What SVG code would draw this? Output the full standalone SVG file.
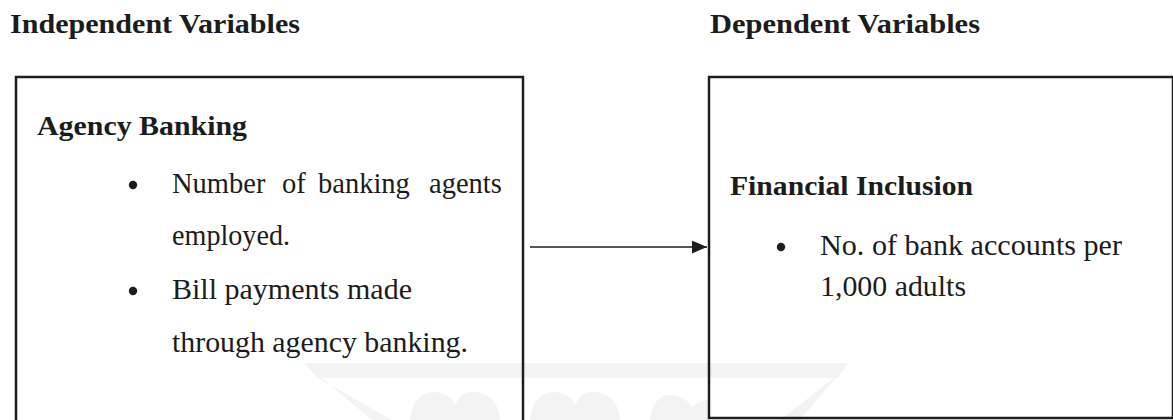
<svg xmlns="http://www.w3.org/2000/svg" width="1173" height="420" viewBox="0 0 1173 420">
<style>
.hdr{font-family:"Liberation Serif","Times New Roman",serif;font-weight:bold;font-size:27px;fill:#1c1c1c}
.ttl{font-family:"Liberation Serif","Times New Roman",serif;font-weight:bold;font-size:27px;fill:#1c1c1c}
.txt{font-family:"Liberation Serif","Times New Roman",serif;font-size:28.5px;fill:#1c1c1c}
.box{fill:none;stroke:#1e1e1e;stroke-width:2.5}
.edge{fill:none;stroke:#1e1e1e;stroke-width:1.6}
.dot{fill:#1c1c1c}
.wm{fill:#f3f3f3}
</style>
<defs>
<marker id="arr" markerWidth="15" markerHeight="13" refX="15" refY="6.5" orient="auto" markerUnits="userSpaceOnUse">
<path d="M0,0 L15,6.5 L0,13 Z" fill="#1e1e1e"/>
</marker>
</defs>
<rect width="1173" height="420" fill="#ffffff"/>
<g id="watermark">
<polygon class="wm" points="304,363 848,363 838,378 318,378"/>
<polygon class="wm" points="304,363 318,378 392,420 372,420"/>
<polygon class="wm" points="848,363 834,378 780,420 800,420"/>
<path class="wm" d="M410,420 Q412,395 432,392 Q450,392 455,405 Q462,390 478,392 Q498,396 500,420 Z"/>
<path class="wm" d="M530,420 Q532,395 552,392 Q570,392 575,405 Q582,390 598,392 Q618,396 620,420 Z"/>
<path class="wm" d="M650,420 Q652,398 668,395 Q686,395 692,408 Q698,400 708,400 L708,420 Z"/>
</g>
<text class="hdr" x="10" y="33" textLength="290" lengthAdjust="spacingAndGlyphs">Independent Variables</text>
<text class="hdr" x="710" y="33" textLength="270" lengthAdjust="spacingAndGlyphs">Dependent Variables</text>
<g id="agency-banking">
<rect class="box" x="16" y="77" width="507" height="370"/>
<text class="ttl" x="37" y="135" textLength="210" lengthAdjust="spacingAndGlyphs">Agency Banking</text>
<circle class="dot" cx="133" cy="185" r="4.2"/>
<text class="txt" y="193"><tspan x="172">Number</tspan><tspan x="282">of</tspan><tspan x="318">banking</tspan><tspan x="429">agents</tspan></text>
<text class="txt" x="172" y="245" textLength="118" lengthAdjust="spacingAndGlyphs">employed.</text>
<circle class="dot" cx="133" cy="291" r="4.2"/>
<text class="txt" x="172" y="299" textLength="240" lengthAdjust="spacingAndGlyphs">Bill payments made</text>
<text class="txt" x="172" y="352" textLength="296" lengthAdjust="spacingAndGlyphs">through agency banking.</text>
</g>
<g id="financial-inclusion">
<rect class="box" x="709" y="77" width="464" height="341"/>
<text class="ttl" x="730" y="195" textLength="243" lengthAdjust="spacingAndGlyphs">Financial Inclusion</text>
<circle class="dot" cx="781" cy="247" r="4.2"/>
<text class="txt" x="820" y="255" textLength="302" lengthAdjust="spacingAndGlyphs">No. of bank accounts per</text>
<text class="txt" x="820" y="296" textLength="146" lengthAdjust="spacingAndGlyphs">1,000 adults</text>
</g>
<g id="connectors">
<line class="edge" x1="530" y1="247" x2="707" y2="247" marker-end="url(#arr)"/>
</g>
</svg>
